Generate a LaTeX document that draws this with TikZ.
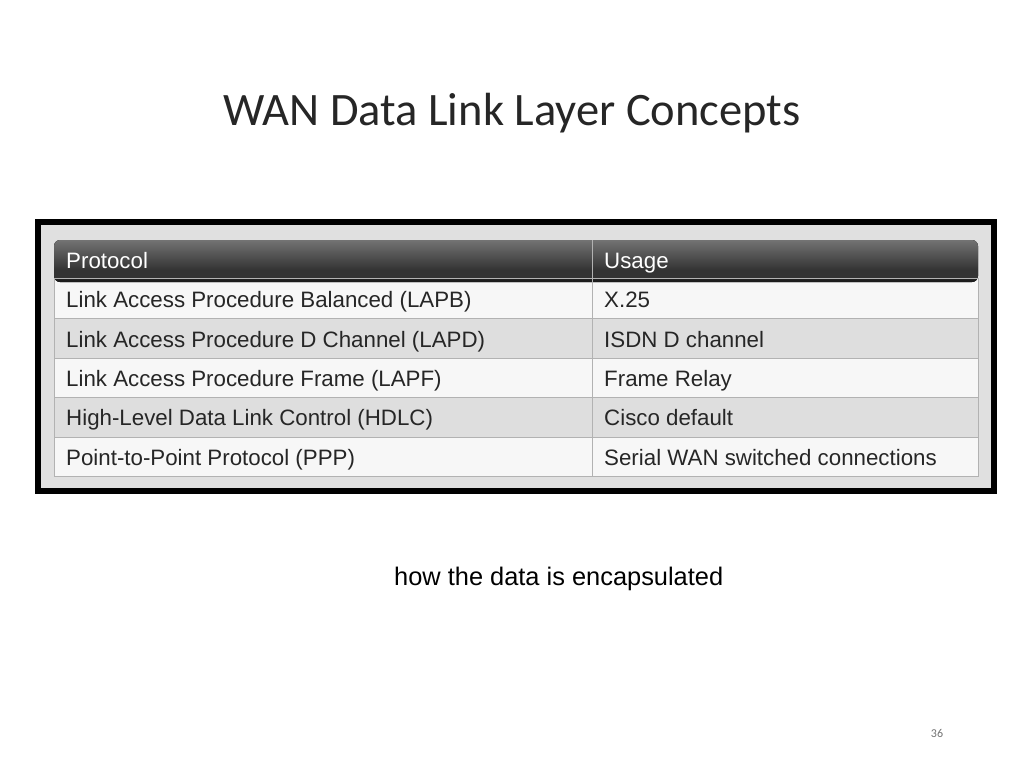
\documentclass[tikz,border=0pt]{standalone}
\usepackage{fontspec}
\setmainfont{Liberation Sans}
\newfontfamily\titlefont{Carlito}
\begin{document}
\begin{tikzpicture}[x=1pt,y=-1pt,
  cell/.style={anchor=base west,font=\fontsize{22.3}{26}\selectfont,text=black!85,inner sep=0},
  head/.style={cell,text=white}]
\useasboundingbox (0,0) rectangle (1024,768);
\fill[white] (0,0) rectangle (1024,768);
\node[font=\titlefont\fontsize{46.5}{52}\selectfont,text=black!85] (title) at (512,113) {WAN Data Link Layer Concepts};
\fill[black] (35,219) rectangle (997,494);
\fill[black!12] (41,225) rectangle (991,488);
\fill[black!3] (54,278) rectangle (978,476);
\foreach \y in {318,397} \fill[black!13] (54,\y) rectangle (978,\y+40);
\fill[top color=black!55,bottom color=black!90,rounded corners=6] (54,240) rectangle (978,282);
\fill[black!80] (54,270) rectangle (978,278);
\foreach \y in {318,358,397,437,476} \draw[black!30] (54,\y) -- (978,\y);
\draw[black!30] (54,278) rectangle (978,476);
\draw[black!30] (592,240) -- (592,476);
\node[head] (h1) at (66,268) {Protocol};
\node[head] (h2) at (604,268) {Usage};
\node[cell] (a1) at (66,307) {Link Access Procedure Balanced (LAPB)};
\node[cell] (b1) at (604,307) {X.25};
\node[cell] (a2) at (66,347) {Link Access Procedure D Channel (LAPD)};
\node[cell] (b2) at (604,347) {ISDN D channel};
\node[cell] (a3) at (66,386) {Link Access Procedure Frame (LAPF)};
\node[cell] (b3) at (604,386) {Frame Relay};
\node[cell] (a4) at (66,425) {High-Level Data Link Control (HDLC)};
\node[cell] (b4) at (604,425) {Cisco default};
\node[cell] (a5) at (66,465) {Point-to-Point Protocol (PPP)};
\node[cell] (b5) at (604,465) {Serial WAN switched connections};
\node[anchor=base west,inner sep=0,font=\fontsize{25.4}{30}\selectfont] (cap) at (394,585) {how the data is encapsulated};
\node[font=\titlefont\fontsize{12}{14}\selectfont,text=black!55] (pg) at (937,733) {36};
\end{tikzpicture}
\end{document}
